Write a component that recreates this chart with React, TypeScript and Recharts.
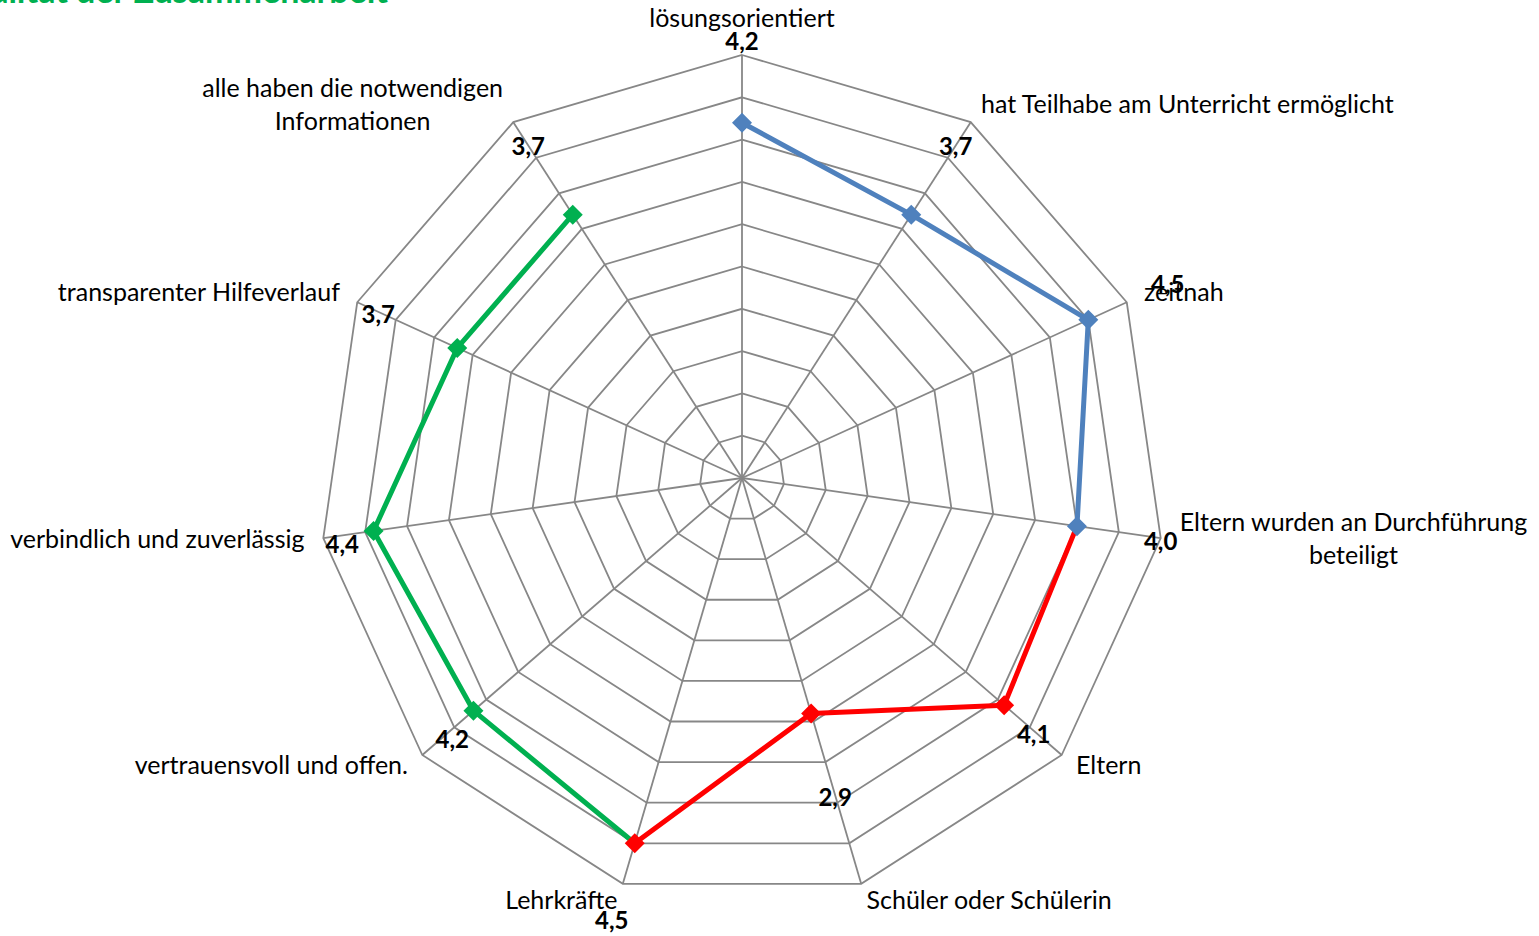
import React from 'react';
import { RadarChart, Radar, PolarGrid, PolarAngleAxis, PolarRadiusAxis } from 'recharts';

const categories = [
  'lösungsorientiert',
  'hat Teilhabe am Unterricht ermöglicht',
  'zeitnah',
  'Eltern wurden an Durchführung\nbeteiligt',
  'Eltern',
  'Schüler oder Schülerin',
  'Lehrkräfte',
  'vertrauensvoll und offen.',
  'verbindlich und zuverlässig',
  'transparenter Hilfeverlauf',
  'alle haben die notwendigen\nInformationen',
];

// one score per axis
const scores = [4.2, 3.7, 4.5, 4.0, 4.1, 2.9, 4.5, 4.2, 4.4, 3.7, 3.7];

// the three coloured stretches of the line (null = not part of it)
const blueValues = [4.2, 3.7, 4.5, 4.0, null, null, null, null, null, null, null];
const redValues = [null, null, null, 4.0, 4.1, 2.9, 4.5, null, null, null, null];
const greenValues = [null, null, null, null, null, null, 4.5, 4.2, 4.4, 3.7, 3.7];

// scale rings
const radiusTicks = [0, 0.5, 1, 1.5, 2, 2.5, 3, 3.5, 4, 4.5, 5];

const data = categories.map((name, i) => ({
  name,
  blue: blueValues[i],
  red: redValues[i],
  green: greenValues[i],
}));

// chart geometry
const W = 1539;
const H = 936;
const CX = 742;
const CY = 478;
const R = 423;
const FONT = 'Lato, "Open Sans", sans-serif';
const FS = 25;

// where excel dropped the value labels, relative to the outer vertex
const valueLabelNudge: [number, number][] = [
  [0, -15], [-15, 23], [41, -19], [0, 2], [-28, -22], [-26, -87],
  [-11, 36], [30, -17], [19, 5], [21, 11], [15, 23],
];

let ctx: CanvasRenderingContext2D | null = null;
const textWidth = (s: string) => {
  if (!ctx) ctx = document.createElement('canvas').getContext('2d');
  if (!ctx) return s.length * FS * 0.5;
  ctx.font = `${FS}px ${FONT}`;
  return ctx.measureText(s).width;
};

const fmt = (v: number) => v.toFixed(1).replace('.', ',');

const AngleTick = (props: any) => {
  const { payload, index, textAnchor } = props;
  const ang = (-payload.coordinate * Math.PI) / 180;
  const ux = Math.cos(ang);
  const uy = Math.sin(ang);
  const vx = CX + R * ux;
  const vy = CY + R * uy;
  const gap = textAnchor === 'middle' ? 35 : 19;
  const ax = vx + ux * gap;
  const ay = vy + uy * gap - 3;

  const lines = String(payload.value).split('\n');
  const lineH = 33;
  const blockW = Math.max(...lines.map(textWidth));
  let lx = ax;
  let anchor = textAnchor;
  if (lines.length > 1) {
    anchor = 'middle';
    if (textAnchor === 'start') lx = ax + blockW / 2;
    if (textAnchor === 'end') lx = ax - blockW / 2;
  }
  const top = ay - ((lines.length - 1) * lineH) / 2;
  const [nx, ny] = valueLabelNudge[index] || [0, 0];

  return (
    <g>
      {lines.map((ln, i) => (
        <text
          key={i}
          x={lx}
          y={top + i * lineH}
          textAnchor={anchor}
          dominantBaseline="central"
          fontFamily={FONT}
          fontSize={FS}
          fill="#000"
        >
          {ln}
        </text>
      ))}
      <text
        x={vx + nx}
        y={vy + ny}
        textAnchor="middle"
        dominantBaseline="central"
        fontFamily={FONT}
        fontSize={24}
        fontWeight="bold"
        fill="#000"
      >
        {fmt(scores[index])}
      </text>
    </g>
  );
};

const diamond = (x: number, y: number, s: number) =>
  `M${x},${y - s}L${x + s},${y}L${x},${y + s}L${x - s},${y}Z`;

const segmentShape = (color: string, skipFirst: boolean) => (props: any) => {
  const pts = (props.points || []).filter(
    (p: any) => p.value != null && Number.isFinite(p.x) && Number.isFinite(p.y)
  );
  const d = pts.map((p: any, i: number) => `${i ? 'L' : 'M'}${p.x},${p.y}`).join('');
  return (
    <g>
      <path d={d} fill="none" stroke={color} strokeWidth={5} strokeLinejoin="round" />
      {pts.map((p: any, i: number) =>
        skipFirst && i === 0 ? null : <path key={i} d={diamond(p.x, p.y, 10)} fill={color} />
      )}
    </g>
  );
};

export default function App() {
  return (
    <div style={{ position: 'absolute', left: 0, top: 0, width: W, height: H, overflow: 'hidden', background: '#fff' }}>
      <RadarChart
        width={W}
        height={H}
        data={data}
        cx={CX}
        cy={CY}
        outerRadius={R}
        margin={{ top: 0, right: 0, bottom: 0, left: 0 }}
      >
        <PolarGrid gridType="polygon" stroke="#878787" strokeWidth={1.8} />
        <PolarAngleAxis dataKey="name" tick={<AngleTick />} tickLine={false} axisLine={false} />
        <PolarRadiusAxis domain={[0, 5]} ticks={radiusTicks as any} tick={false} axisLine={false} />
        <Radar dataKey="green" isAnimationActive={false} dot={false} shape={segmentShape('#00B050', true)} />
        <Radar dataKey="red" isAnimationActive={false} dot={false} shape={segmentShape('#FF0000', true)} />
        <Radar dataKey="blue" isAnimationActive={false} dot={false} shape={segmentShape('#4F81BD', false)} />
      </RadarChart>
      <svg width={W} height={40} style={{ position: 'absolute', left: 0, top: 0 }}>
        <text x={388} y={3} textAnchor="end" fontFamily={FONT} fontSize={34} fontWeight="bold" fill="#00B050">
          Qualität der Zusammenarbeit
        </text>
      </svg>
    </div>
  );
}
